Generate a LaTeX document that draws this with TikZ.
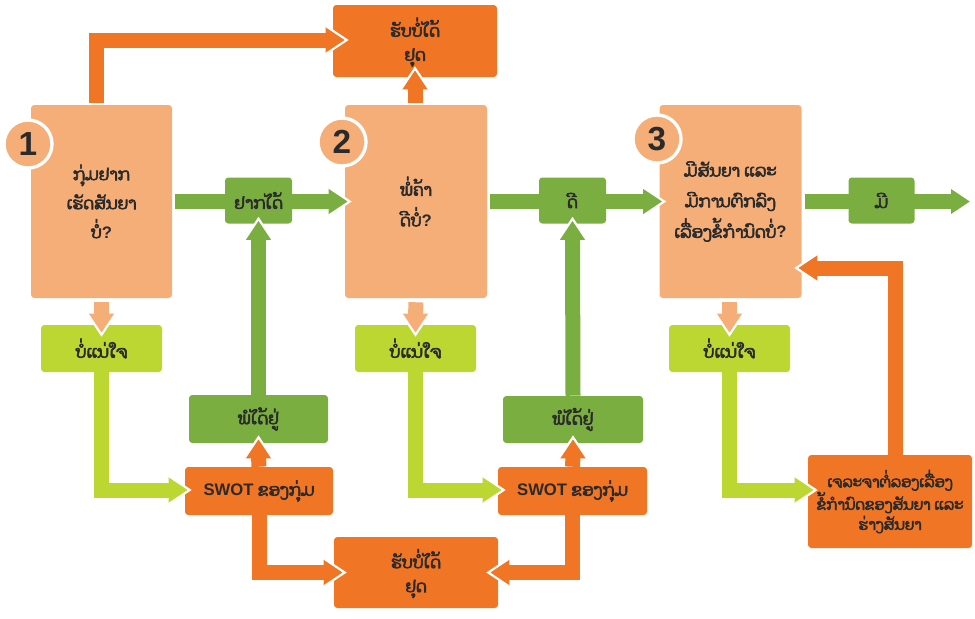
\documentclass[tikz,border=0pt]{standalone}
\usepackage{fontspec}
\newfontfamily\lao[Script=Lao,FakeBold=3.5]{Dhyana}
\newfontfamily\lat{Liberation Sans}
\usetikzlibrary{calc}
\definecolor{lo}{HTML}{F6AE78}
\definecolor{do}{HTML}{F07525}
\definecolor{gr}{HTML}{7BAE41}
\definecolor{li}{HTML}{BDD732}
\definecolor{tx}{HTML}{2A2A2A}
\pgfdeclarelayer{bg}
\pgfsetlayers{bg,main}
\newcommand{\qm}{{\lat\bfseries ?}}
\newcommand{\tstrut}{\rule{0pt}{16pt}}
\begin{document}
\begin{tikzpicture}[x=0.75pt,y=-0.75pt,
 box/.style={rounded corners=2.5pt, inner sep=0pt, align=center, text=tx},
 sz/.style 2 args={minimum width=#1*0.75pt, minimum height=#2*0.75pt},
 lf/.style={font={\lao\fontsize{12.5}{#1}\selectfont}},
 sf/.style={font={\lao\fontsize{11.2}{#1}\selectfont}},
 shaft/.style={draw=#1, line width=11.25pt, line join=miter},
 num/.style={circle, fill=lo, draw=white, line width=2.5pt, minimum size=48*0.75pt, inner sep=0pt, text=tx, font={\lat\bfseries\fontsize{25}{25}\selectfont}},
 pics/ahead/.style={code={
   \fill[#1] (0,0) -- (-21,14) -- (-21,-14) -- cycle;
   \draw[white, line width=1.6pt, line join=miter] (-21,14) -- (0,0) -- (-21,-14);}}
]
\useasboundingbox (0,0) rectangle (975,618);

% main boxes
\node[box,sz={141}{193},fill=lo,lf=21.75] (b1) at (101.5,201.5) {ກຸ່ມຢາກ\\ເຮັດສັນຍາ\\ບໍ່\qm};
\node[box,sz={142}{193},fill=lo,lf=23] (b2) at (416,201.5) {ພໍ່ຄ້າ\\ດີບໍ່\qm};
\node[box,sz={142}{193},fill=lo,lf=23] (b3) at (730.5,201.5) {ມີສັນຍາ ແລະ\\ມີການຕົກລົງ\\ເລື່ອງຂໍ້ກຳນົດບໍ່\qm};
\node[num] (c1) at (28,144) {1};
\node[num] (c2) at (342,142) {2};
\node[num] (c3) at (657,139) {3};

\node[box,sz={164}{72},fill=do,lf=18] (stopT) at (415,41) {\tstrut ຮັບບໍ່ໄດ້\\ຢຸດ};
\node[box,sz={164}{71},fill=do,lf=18] (stopB) at (416,572.5) {\tstrut ຮັບບໍ່ໄດ້\\ຢຸດ};

\node[box,sz={67}{46},fill=gr,lf=14] (want) at (258.5,200.5) {ຢາກໄດ້};
\node[box,sz={67}{46},fill=gr,lf=14] (good) at (572.5,200.5) {ດີ};
\node[box,sz={66}{46},fill=gr,lf=14] (yes) at (881.5,200.5) {ມີ};

\node[box,sz={121}{47},fill=li,lf=14] (uns1) at (101.5,348.5) {ບໍ່ແນ່ໃຈ};
\node[box,sz={121}{47},fill=li,lf=14] (uns2) at (415.5,348.5) {ບໍ່ແນ່ໃຈ};
\node[box,sz={121}{47},fill=li,lf=14] (uns3) at (729.5,348.5) {ບໍ່ແນ່ໃຈ};

\node[box,sz={139}{48},fill=gr,lf=14] (ok1) at (258.5,419) {ພໍໄດ້ຢູ່};
\node[box,sz={140}{47},fill=gr,lf=14] (ok2) at (573,419.5) {ພໍໄດ້ຢູ່};

\node[box,sz={148}{48},fill=do,lf=14] (swot1) at (259,491) {{\lat\bfseries SWOT} ຂອງກຸ່ມ};
\node[box,sz={149}{48},fill=do,lf=14] (swot2) at (572.5,491) {{\lat\bfseries SWOT} ຂອງກຸ່ມ};

\node[box,sz={164}{93},fill=do,sf=15] (neg) at (890,501.5) {\rule{0pt}{12pt}ເຈລະຈາຕໍ່ລອງເລື່ອງ\\ຂໍ້ກຳນົດຂອງສັນຍາ ແລະ\\ຮ່າງສັນຍາ};

\coordinate (out) at (972,201.5);

% shafts
\begin{pgfonlayer}{bg}
\draw[shaft=do] ($(b1.north)+(-5.5,-2)$) |- ($(stopT.west)+(-5,-1)$);
\draw[shaft=do] ($(b2.north)+(-1,-2)$) -- ($(stopT.south)+(0,10)$);
\draw[shaft=gr] ($(b1.east)+(3,0)$) -- ($(b2.west)+(-14,0)$);
\draw[shaft=gr] ($(b2.east)+(3,0)$) -- ($(b3.west)+(-14,0)$);
\draw[shaft=gr] ($(b3.east)+(3,0)$) -- ($(out)+(-19,0)$);
\draw[shaft=lo] ($(b1.south)+(0,4)$) -- ($(uns1.north)+(0,-9)$);
\draw[shaft=lo] ($(b2.south)+(0,4)$) -- ($(uns2.north)+(0,-9)$);
\draw[shaft=lo] ($(b3.south)+(-1,4)$) -- ($(uns3.north)+(0,-9)$);
\draw[shaft=li] (uns1.south) |- ($(swot1.west)+(-14,-1)$);
\draw[shaft=li] (uns2.south) |- ($(swot2.west)+(-13,-1)$);
\draw[shaft=li] (uns3.south) |- ($(neg.west)+(-11,-11.5)$);
\draw[shaft=do] (swot1.north) -- ($(ok1.south)+(0,13)$);
\draw[shaft=gr] (ok1.north) -- ($(want.south)+(0,14)$);
\draw[shaft=do] (swot2.north) -- ($(ok2.south)+(0,13)$);
\draw[shaft=gr] (ok2.north) -- ($(good.south)+(0,14)$);
\draw[shaft=do] (swot1.south) |- ($(stopB.west)+(-8,0)$);
\draw[shaft=do] (swot2.south) |- ($(stopB.east)+(9,0)$);
\draw[shaft=do] ($(neg.north)+(5,0)$) |- ($(b3.east)+(13.5,66.5)$);
\end{pgfonlayer}

% heads
\pic at ($(stopT.west)+(14,-1)$) {ahead=do};
\pic[rotate=90] at ($(stopT.south)+(0,-9)$) {ahead=do};
\pic at ($(b2.west)+(5,0)$) {ahead=gr};
\pic at ($(b3.west)+(5,0)$) {ahead=gr};
\pic at (out) {ahead=gr};
\pic[rotate=-90] at ($(uns1.north)+(0,10)$) {ahead=lo};
\pic[rotate=-90] at ($(uns2.north)+(0,10)$) {ahead=lo};
\pic[rotate=-90] at ($(uns3.north)+(0,10)$) {ahead=lo};
\pic at ($(swot1.west)+(5,-1)$) {ahead=li};
\pic at ($(swot2.west)+(6,-1)$) {ahead=li};
\pic at ($(neg.west)+(8,-11.5)$) {ahead=li};
\pic[rotate=90] at ($(ok1.south)+(0,-6)$) {ahead=do};
\pic[rotate=90] at ($(want.south)+(0,-5)$) {ahead=gr};
\pic[rotate=90] at ($(ok2.south)+(0,-6)$) {ahead=do};
\pic[rotate=90] at ($(good.south)+(0,-5)$) {ahead=gr};
\pic at ($(stopB.west)+(11,0)$) {ahead=do};
\pic[rotate=180] at ($(stopB.east)+(-10,0)$) {ahead=do};
\pic[rotate=180] at ($(b3.east)+(-5.5,66.5)$) {ahead=do};
\end{tikzpicture}
\end{document}
